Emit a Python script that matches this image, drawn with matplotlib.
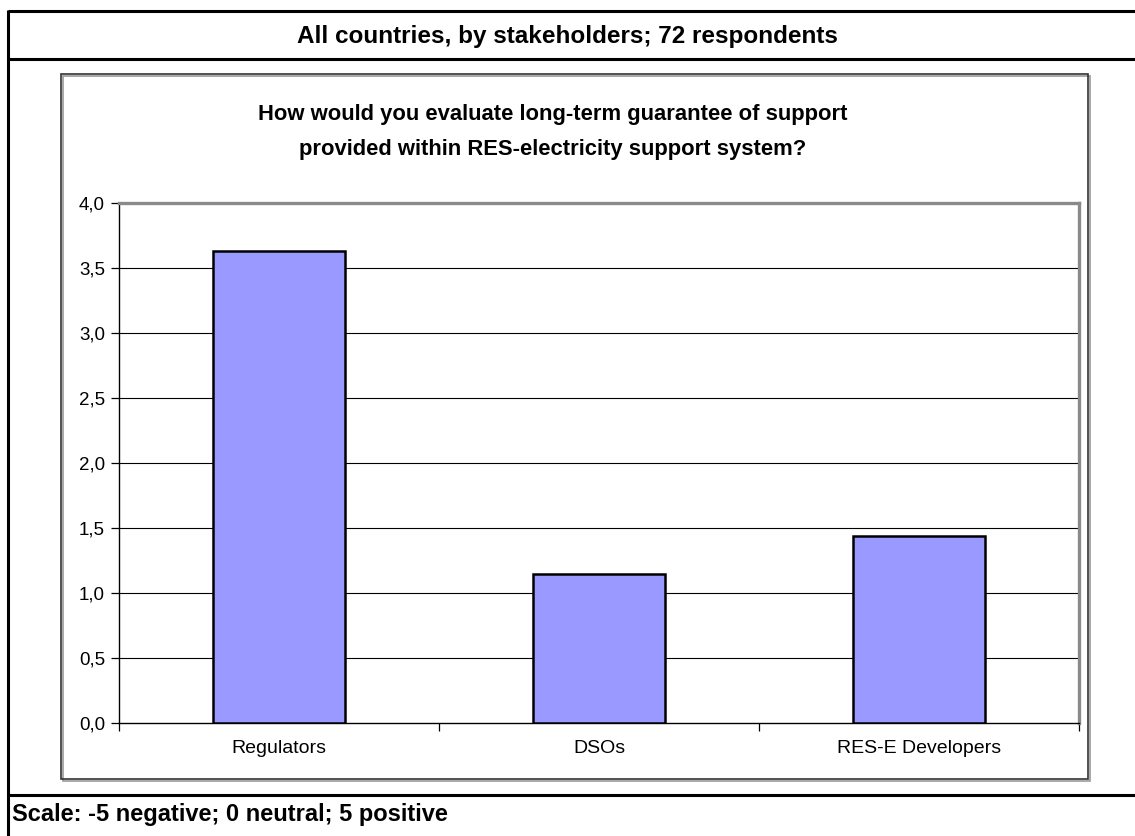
import matplotlib
matplotlib.use("Agg")
import matplotlib.pyplot as plt
from matplotlib.patches import Rectangle
from matplotlib.lines import Line2D

plt.rcParams['font.family'] = ['Liberation Sans', 'DejaVu Sans']

# Data
categories = ["Regulators", "DSOs", "RES-E Developers"]
scores = [3.63, 1.15, 1.44]
y_ticks = [0.0, 0.5, 1.0, 1.5, 2.0, 2.5, 3.0, 3.5, 4.0]
y_tick_labels = ["0,0", "0,5", "1,0", "1,5", "2,0", "2,5", "3,0", "3,5", "4,0"]
header_text = "All countries, by stakeholders; 72 respondents"
question_text = ("How would you evaluate long-term guarantee of support\n"
                 "provided within RES-electricity support system?")
footer_text = "Scale: -5 negative; 0 neutral; 5 positive"

W, H = 1135, 836
fig = plt.figure(figsize=(W / 100, H / 100), dpi=100)
fig.patch.set_facecolor("white")


def fx(x):
    return x / W


def fy(y):
    return 1 - y / H


def hline(x0, x1, y, lw, color="black"):
    fig.add_artist(Line2D([fx(x0), fx(x1)], [fy(y), fy(y)], lw=lw, color=color,
                          transform=fig.transFigure, solid_capstyle="butt"))


def vline(x, y0, y1, lw, color="black"):
    fig.add_artist(Line2D([fx(x), fx(x)], [fy(y0), fy(y1)], lw=lw, color=color,
                          transform=fig.transFigure, solid_capstyle="butt"))


# Outer frame with header and footer bands
hline(8, 1140, 11, 2.2)
hline(8, 1140, 59, 2.2)
hline(8, 1140, 795, 2.2)
vline(8, 10, 840, 2.2)

# Chart box with a light shadow
fig.add_artist(Rectangle((fx(63), fy(781)), fx(1090) - fx(63), fy(76) - fy(781),
                         transform=fig.transFigure, fill=False,
                         edgecolor="#9a9a9a", lw=1.2))
fig.add_artist(Rectangle((fx(61), fy(779)), fx(1088) - fx(61), fy(74) - fy(779),
                         transform=fig.transFigure, fill=False,
                         edgecolor="#333333", lw=1.2))

fig.text(fx(567), fy(37), header_text, ha="center", va="center",
         fontsize=17.5, fontweight="bold")
fig.text(fx(553), fy(132), question_text, ha="center", va="center",
         fontsize=15.8, fontweight="bold", linespacing=1.9)
fig.text(fx(12), fy(815), footer_text, ha="left", va="center",
         fontsize=17, fontweight="bold")

# Plot area
ax = fig.add_axes([fx(119), fy(723), fx(1079) - fx(119), fy(203) - fy(723)])
x = list(range(len(categories)))
ax.bar(x, scores, width=0.41, color="#9999FF", edgecolor="black",
       linewidth=1.8, zorder=3)
ax.set_xlim(-0.5, len(categories) - 0.5)
ax.set_ylim(0, 4.0)
ax.set_yticks(y_ticks)
ax.set_yticklabels(y_tick_labels)
for t in y_ticks[1:-1]:
    ax.axhline(t, color="black", lw=0.8, zorder=1)

ax.set_xticks(x)
ax.set_xticklabels(categories)
ax.tick_params(axis="x", length=0, pad=12, labelsize=14)
ax.tick_params(axis="y", length=6, width=0.9, direction="out", pad=4,
               labelsize=13.5)
ax.set_xticks([-0.5, 0.5, 1.5, 2.5], minor=True)
ax.tick_params(axis="x", which="minor", length=6, width=0.9, direction="out")

for side in ("left", "bottom"):
    ax.spines[side].set_color("black")
    ax.spines[side].set_linewidth(1.0)
for side in ("top", "right"):
    ax.spines[side].set_color("#8a8a8a")
    ax.spines[side].set_linewidth(2.4)

fig.savefig("out.png", dpi=100, facecolor="white")
